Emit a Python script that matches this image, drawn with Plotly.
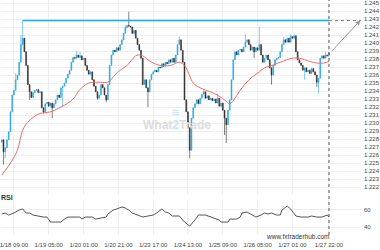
import plotly.graph_objects as go

# hourly candles; index 0 = 1/18 09:00, first candle at index -7
idx_start = -7
first_open = 12276  # prices in 0.0001 units
closes = [
    12279, 12264, 12269, 12279, 12289, 12314, 12335, 12341, 12354, 12360,
    12376, 12398, 12406, 12389, 12372, 12348, 12339, 12332, 12338, 12341,
    12342, 12338, 12339, 12319, 12314, 12324, 12326, 12321, 12325, 12319,
    12324, 12329, 12335, 12332, 12344, 12346, 12350, 12356, 12361, 12366,
    12376, 12382, 12381, 12385, 12382, 12384, 12379, 12381, 12372, 12366,
    12361, 12364, 12354, 12346, 12339, 12331, 12335, 12348, 12344, 12335,
    12329, 12348, 12372, 12385, 12391, 12389, 12394, 12391, 12398, 12404,
    12412, 12419, 12422, 12421, 12420, 12412, 12416, 12406, 12398, 12391,
    12381, 12348, 12354, 12344, 12339, 12354, 12361, 12364, 12366, 12364,
    12370, 12369, 12374, 12371, 12376, 12374, 12379, 12376, 12381, 12376,
    12385, 12398, 12404, 12391, 12376, 12329, 12314, 12294, 12266, 12306,
    12319, 12324, 12329, 12324, 12331, 12336, 12339, 12331, 12334, 12329,
    12331, 12328, 12330, 12325, 12331, 12321, 12325, 12316, 12306, 12298,
    12316, 12329, 12354, 12379, 12389, 12385, 12391, 12392, 12389, 12395,
    12401, 12404, 12398, 12391, 12395, 12389, 12394, 12391, 12398, 12385,
    12376, 12381, 12385, 12379, 12369, 12360, 12372, 12379, 12381, 12382,
    12389, 12398, 12404, 12401, 12406, 12401, 12408, 12406, 12409, 12389,
    12379, 12375, 12372, 12366, 12369, 12364, 12366, 12362, 12368, 12364,
    12360, 12351, 12356, 12381, 12384, 12381, 12385, 12384, 12388,
]
high_wicks = {1: 12362, 4: 12410, 5: 12428, 36: 12390, 38: 12389, 64: 12422,
              66: 12439, 95: 12408, 109: 12342, 117: 12337, 133: 12411,
              141: 12420, 155: 12408, 159: 12411, 161: 12411, 179: 12389}
low_wicks = {-6: 12248, -5: 12256, 9: 12329, 17: 12312, 22: 12306, 28: 12320,
             48: 12329, 53: 12326, 77: 12320, 101: 12256, 121: 12285,
             122: 12275, 138: 12381, 148: 12348, 167: 12354, 174: 12345,
             175: 12337}

ma_x = [-7, -2, 2, 5, 8, 11, 15, 21, 27, 31, 34, 38, 43, 47, 50, 54, 58, 61, 65, 70,
        73, 77, 80, 84, 90, 95, 98, 101, 103, 107, 115, 121, 124, 127, 130, 135, 141,
        144, 147, 153, 160, 164, 170, 174, 178, 181]
ma_v = [12235, 12250, 12266, 12291, 12301, 12307, 12312, 12314, 12320, 12325,
        12330, 12342, 12350, 12351, 12351, 12351, 12360, 12366, 12372, 12384,
        12385, 12379, 12375, 12372, 12372, 12376, 12372, 12359, 12350, 12344,
        12337, 12329, 12324, 12331, 12341, 12354, 12364, 12369, 12371, 12376,
        12381, 12381, 12377, 12375, 12375, 12377]

rsi_x = [-7, -5, -3, 0, 3, 5, 7, 9, 11, 14, 15, 17, 19, 21, 24, 27, 29, 31, 37, 38,
         39, 41, 45, 47, 50, 53, 54, 57, 59, 62, 64, 66, 68, 71, 74, 77, 80, 82, 85, 87,
         89, 91, 95, 98, 101, 104, 106, 110, 113, 114, 118, 119, 123, 124, 128, 130,
         131, 134, 137, 139, 142, 144, 146, 148, 151, 153, 154, 157, 159, 162, 165,
         169, 171, 174, 177, 180, 181]
rsi_v = [54.9, 56, 53.7, 56, 59.4, 60.6, 56, 56, 53.7, 52.6, 51.4, 51.4, 51.4, 45.7,
         45.7, 45.7, 49.1, 51.4, 51.4, 51.4, 49.1, 51.4, 51.4, 49.1, 50.3, 51.4, 54.9,
         59.4, 60.6, 62.9, 61.7, 59.4, 56, 53.7, 51.4, 52.6, 53.7, 56, 60.6, 57.1, 56,
         52.6, 52.6, 45.7, 41.1, 48, 53.7, 53.7, 51.4, 51.4, 48, 45.7, 45.7, 49.1, 49.1,
         51.4, 56, 57.1, 53.7, 51.4, 53.7, 56, 54.9, 56, 53.7, 53.7, 59.4, 64, 60.6,
         52.6, 51.4, 51.4, 52.6, 51.4, 51.4, 53.7, 51.4]

tick_idx = [0, 20, 40, 60, 80, 100, 120, 140, 160, 181]
tick_lbl = ["1/18 09:00", "1/19 05:00", "1/20 01:00", "1/20 21:00", "1/23 17:00",
            "1/24 13:00", "1/25 09:00", "1/26 05:00", "1/27 01:00", "1/27 22:00"]
price_ticks = [1.222 + 0.001 * k for k in range(24)]
price_lbl = ["%.3f" % p for p in price_ticks]
rsi_ticks = [40, 60]
resistance = 12428

SCALE = 10000.0
n = len(closes)
xs = list(range(idx_start, idx_start + n))
opens = [first_open] + closes[:-1]  # each hourly candle opens at previous close
highs = [high_wicks.get(x, max(o, c)) for x, o, c in zip(xs, opens, closes)]
lows = [low_wicks.get(x, min(o, c)) for x, o, c in zip(xs, opens, closes)]

BLUE = "#2ba4e0"
DARK = "#2a2a2a"
GRID = "#efefef"
FONT = "Liberation Sans, Arial, sans-serif"
XMIN, XMAX = -7.43, 199.4

fig = go.Figure()
fig.add_trace(go.Candlestick(
    x=xs, open=[v / SCALE for v in opens], high=[v / SCALE for v in highs],
    low=[v / SCALE for v in lows], close=[v / SCALE for v in closes],
    increasing=dict(line=dict(color=BLUE, width=0.6), fillcolor=BLUE),
    decreasing=dict(line=dict(color=DARK, width=0.6), fillcolor=DARK),
    whiskerwidth=0, showlegend=False, hoverinfo="skip", xaxis="x", yaxis="y"))
fig.add_trace(go.Scatter(
    x=ma_x, y=[v / SCALE for v in ma_v], mode="lines",
    line=dict(color="#f06a6a", width=1, shape="spline"),
    showlegend=False, hoverinfo="skip", xaxis="x", yaxis="y"))
fig.add_trace(go.Scatter(
    x=rsi_x, y=rsi_v, mode="lines", line=dict(color="#555555", width=1),
    showlegend=False, hoverinfo="skip", xaxis="x2", yaxis="y2"))

last_x = xs[-1]
res = resistance / SCALE
fig.add_shape(type="line", xref="x", yref="y", x0=5, x1=last_x, y0=res, y1=res,
              line=dict(color="#2ea6e2", width=1.5))
fig.add_shape(type="line", xref="x", yref="y", x0=last_x, x1=XMAX, y0=res, y1=res,
              line=dict(color="#777777", width=1, dash="dot"))
fig.add_shape(type="line", xref="x", yref="paper", x0=last_x, x1=last_x, y0=0, y1=1,
              line=dict(color="#555555", width=1, dash="dot"))
fig.add_annotation(x=XMAX - 0.3, y=res + 0.00005, ax=last_x + 0.8, ay=closes[-1] / SCALE,
                   xref="x", yref="y", axref="x", ayref="y", text="", showarrow=True,
                   arrowhead=2, arrowsize=1, arrowwidth=1, arrowcolor="#999999")

# watermark
fig.add_annotation(x=0.49, y=0.468, xref="paper", yref="paper", showarrow=False,
                   text="<b>What<span style='color:#c6e4f4'>2</span>Trade</b>",
                   font=dict(family=FONT, size=12, color="#dcdcdc"))
fig.add_annotation(x=0.486, y=0.525, xref="paper", yref="paper", showarrow=False,
                   text="≋", font=dict(family=FONT, size=11, color="#c6e4f4"))
fig.add_annotation(x=-0.006, y=0.16, xref="paper", yref="paper", showarrow=False,
                   xanchor="left", yanchor="middle", text="<b>RSI</b>",
                   font=dict(family=FONT, size=7, color="#333333"))
fig.add_annotation(x=0.92, y=-0.005, xref="paper", yref="paper", showarrow=False,
                   yanchor="middle", text="www.fxtraderhub.com",
                   font=dict(family=FONT, size=6.5, color="#333333"))

tick_font = dict(family=FONT, size=6, color="#444444")
fig.update_layout(
    width=380, height=250, margin=dict(l=0, r=18, t=0, b=15),
    paper_bgcolor="white", plot_bgcolor="white", showlegend=False,
    xaxis=dict(domain=[0, 1], range=[XMIN, XMAX], anchor="y", tickvals=tick_idx,
               showticklabels=False, showgrid=True, gridcolor=GRID, gridwidth=1,
               zeroline=False, showline=False, ticks="", rangeslider=dict(visible=False)),
    yaxis=dict(domain=[0.17, 1], range=[1.221, 1.245375], anchor="x", side="right",
               tickvals=price_ticks, ticktext=price_lbl, tickfont=tick_font,
               ticklabeloverflow="allow", ticklabelstandoff=2,
               showgrid=True, gridcolor=GRID, zeroline=False, showline=False, ticks=""),
    xaxis2=dict(domain=[0, 1], range=[XMIN, XMAX], anchor="y2", tickvals=tick_idx,
                ticktext=tick_lbl, tickfont=tick_font, showgrid=True, gridcolor=GRID,
                ticklabeloverflow="allow", ticklabelstandoff=5,
                zeroline=False, showline=False, ticks=""),
    yaxis2=dict(domain=[0, 0.149], range=[30.9, 70.9], anchor="x2", side="right",
                tickvals=rsi_ticks, tickfont=tick_font, showgrid=True, gridcolor=GRID,
                ticklabeloverflow="allow", ticklabelstandoff=2,
                zeroline=False, showline=False, ticks=""),
)

fig.write_html("out.html")
